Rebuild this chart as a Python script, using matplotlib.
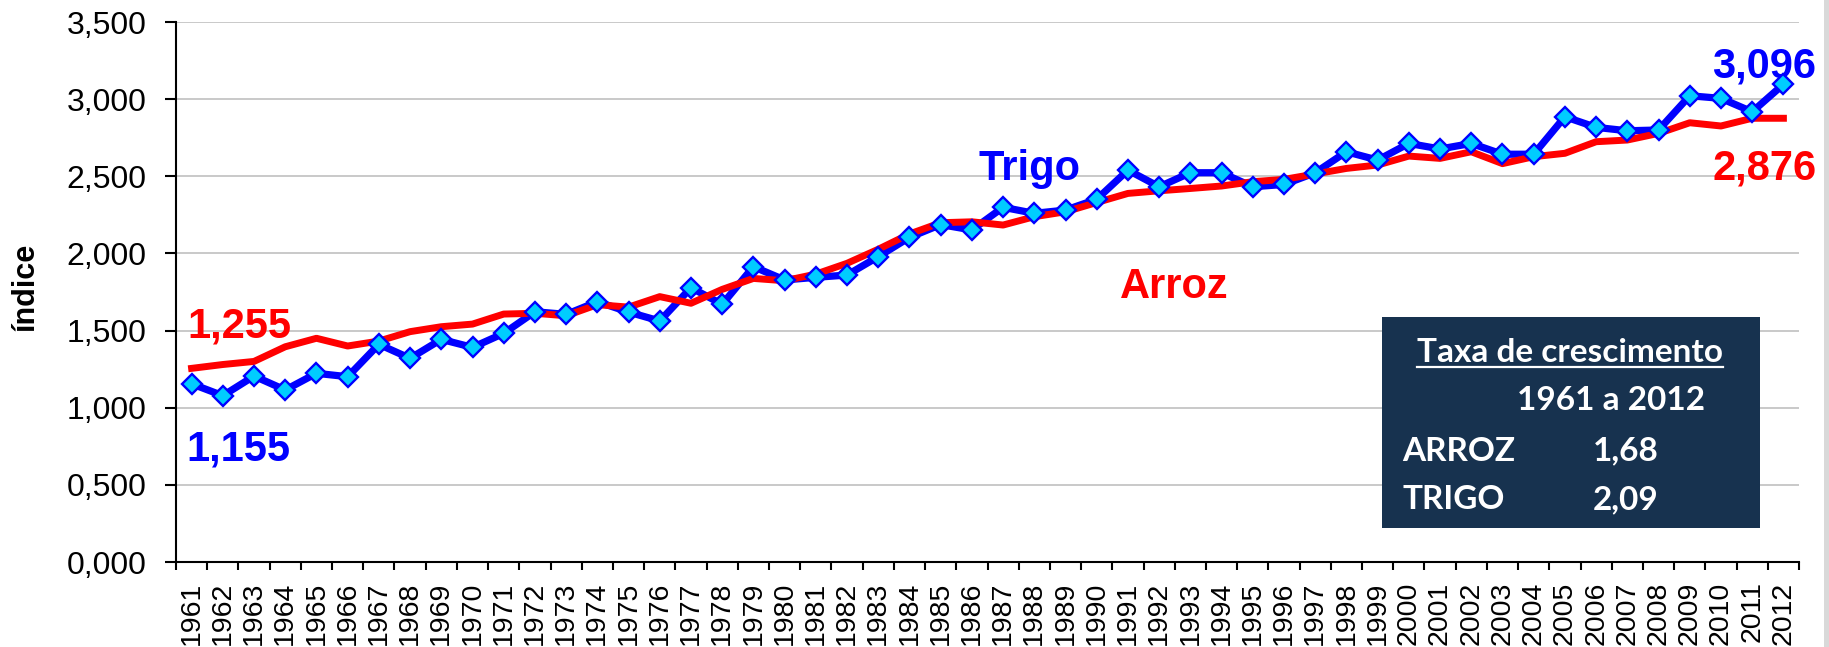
import matplotlib
matplotlib.use("Agg")
import matplotlib.pyplot as plt
import numpy as np
from matplotlib import ticker
from matplotlib.patches import Rectangle
from matplotlib.lines import Line2D

plt.rcParams["font.family"] = ["Liberation Sans", "DejaVu Sans"]

# data
years = list(range(1961, 2013))
trigo = [1.155, 1.078, 1.205, 1.115, 1.223, 1.201, 1.411, 1.320, 1.443, 1.391,
         1.482, 1.622, 1.605, 1.687, 1.620, 1.562, 1.778, 1.670, 1.914, 1.828,
         1.845, 1.860, 1.979, 2.104, 2.187, 2.152, 2.299, 2.260, 2.281, 2.351,
         2.540, 2.432, 2.523, 2.523, 2.432, 2.447, 2.523, 2.659, 2.605, 2.713,
         2.677, 2.713, 2.643, 2.643, 2.886, 2.817, 2.795, 2.800, 3.022, 3.005,
         2.918, 3.096]
arroz = [1.255, 1.280, 1.300, 1.395, 1.450, 1.400, 1.432, 1.493, 1.525, 1.542,
         1.607, 1.612, 1.596, 1.668, 1.652, 1.720, 1.677, 1.767, 1.838, 1.823,
         1.866, 1.936, 2.027, 2.126, 2.199, 2.205, 2.184, 2.238, 2.270, 2.330,
         2.389, 2.406, 2.421, 2.437, 2.465, 2.480, 2.515, 2.551, 2.573, 2.631,
         2.616, 2.659, 2.582, 2.627, 2.649, 2.724, 2.735, 2.778, 2.847, 2.826,
         2.876, 2.876]
box_title = "Taxa de crescimento"
box_period = "1961 a 2012"
box_rows = [("ARROZ", "1,68"), ("TRIGO", "2,09")]

W, H = 1829, 647
fig = plt.figure(figsize=(W / 100, H / 100), dpi=100)
ax = fig.add_axes([176 / W, 1 - 562 / H, (1799 - 176) / W, 540 / H])

x = np.arange(len(years))
ax.plot(x, trigo, color="#0000ff", lw=5.2, zorder=3, solid_joinstyle="round")
ax.plot(x, arroz, color="#ff0000", lw=5.0, zorder=4, solid_joinstyle="round")
ax.plot(x, trigo, ls="none", marker="D", ms=10.5, mfc="#00ccff", mec="#0000ff",
        mew=1.7, zorder=5)

ax.set_xlim(-0.5, len(years) - 0.5)
ax.set_ylim(0, 3.5)

ax.set_yticks(np.arange(0, 3.51, 0.5))
ax.yaxis.set_major_formatter(ticker.FuncFormatter(lambda v, p: f"{v:.3f}".replace(".", ",")))
ax.tick_params(axis="y", direction="out", length=8, width=1.5, pad=13, labelsize=23)

ax.set_xticks(x)
ax.set_xticklabels([str(y) for y in years], rotation=90, fontsize=20.5, va="top")
ax.set_xticks(np.arange(-0.5, len(years)), minor=True)
ax.tick_params(axis="x", which="major", length=0, pad=14)
ax.tick_params(axis="x", which="minor", direction="out", length=6, width=1.5)

ax.grid(axis="y", color="#c0c0c0", lw=1.2)
ax.set_axisbelow(True)
for s in ["top", "right"]:
    ax.spines[s].set_visible(False)
for s in ["left", "bottom"]:
    ax.spines[s].set_linewidth(1.5)

bold = dict(weight="bold", fontsize=30)
ax.text(-0.12, 1.452, "1,255", color="#ff0000", ha="left", va="baseline", **bold)
ax.text(-0.18, 0.661, "1,155", color="#0000ff", ha="left", va="baseline", **bold)
ax.text(25.2, 2.476, "Trigo", color="#0000ff", ha="left", va="baseline", **bold)
ax.text(29.74, 1.711, "Arroz", color="#ff0000", ha="left", va="baseline", **bold)
ax.text(52.05, 3.143, "3,096", color="#0000ff", ha="right", va="baseline", clip_on=False, **bold)
ax.text(52.05, 2.476, "2,876", color="#ff0000", ha="right", va="baseline", clip_on=False, **bold)

fig.text(25 / W, 1 - 287 / H, "índice", rotation=90, ha="center", va="center",
         weight="bold", fontsize=22)

# growth-rate box
ax.add_patch(Rectangle((0.743, 0.063), 0.233, 0.391, transform=ax.transAxes,
                       facecolor="#17324f", edgecolor="none", zorder=6))
boxfont = dict(family="Lato", weight="bold", fontsize=24, color="white", zorder=7)
t = ax.text(0.859, 0.371, box_title, transform=ax.transAxes, ha="center",
            va="baseline", **boxfont)
ax.text(0.884, 0.2815, box_period, transform=ax.transAxes, ha="center",
        va="baseline", **boxfont)
for (name, val), yb in zip(box_rows, [0.1876, 0.098]):
    ax.text(0.7554, yb, name, transform=ax.transAxes, ha="left", va="baseline", **boxfont)
    ax.text(0.873, yb, val, transform=ax.transAxes, ha="left", va="baseline", **boxfont)

fig.canvas.draw()
bb = t.get_window_extent()
uy = 1 - 367 / H
fig.add_artist(Line2D([bb.x0 / W, bb.x1 / W], [uy, uy], color="white", lw=1.6, zorder=8))

# light gray frame strip on the right edge
fig.add_artist(Rectangle((1824 / W, 0), 5 / W, 1, transform=fig.transFigure,
                         facecolor="#d9d9d9", edgecolor="none"))

fig.savefig("out.png", dpi=100)
